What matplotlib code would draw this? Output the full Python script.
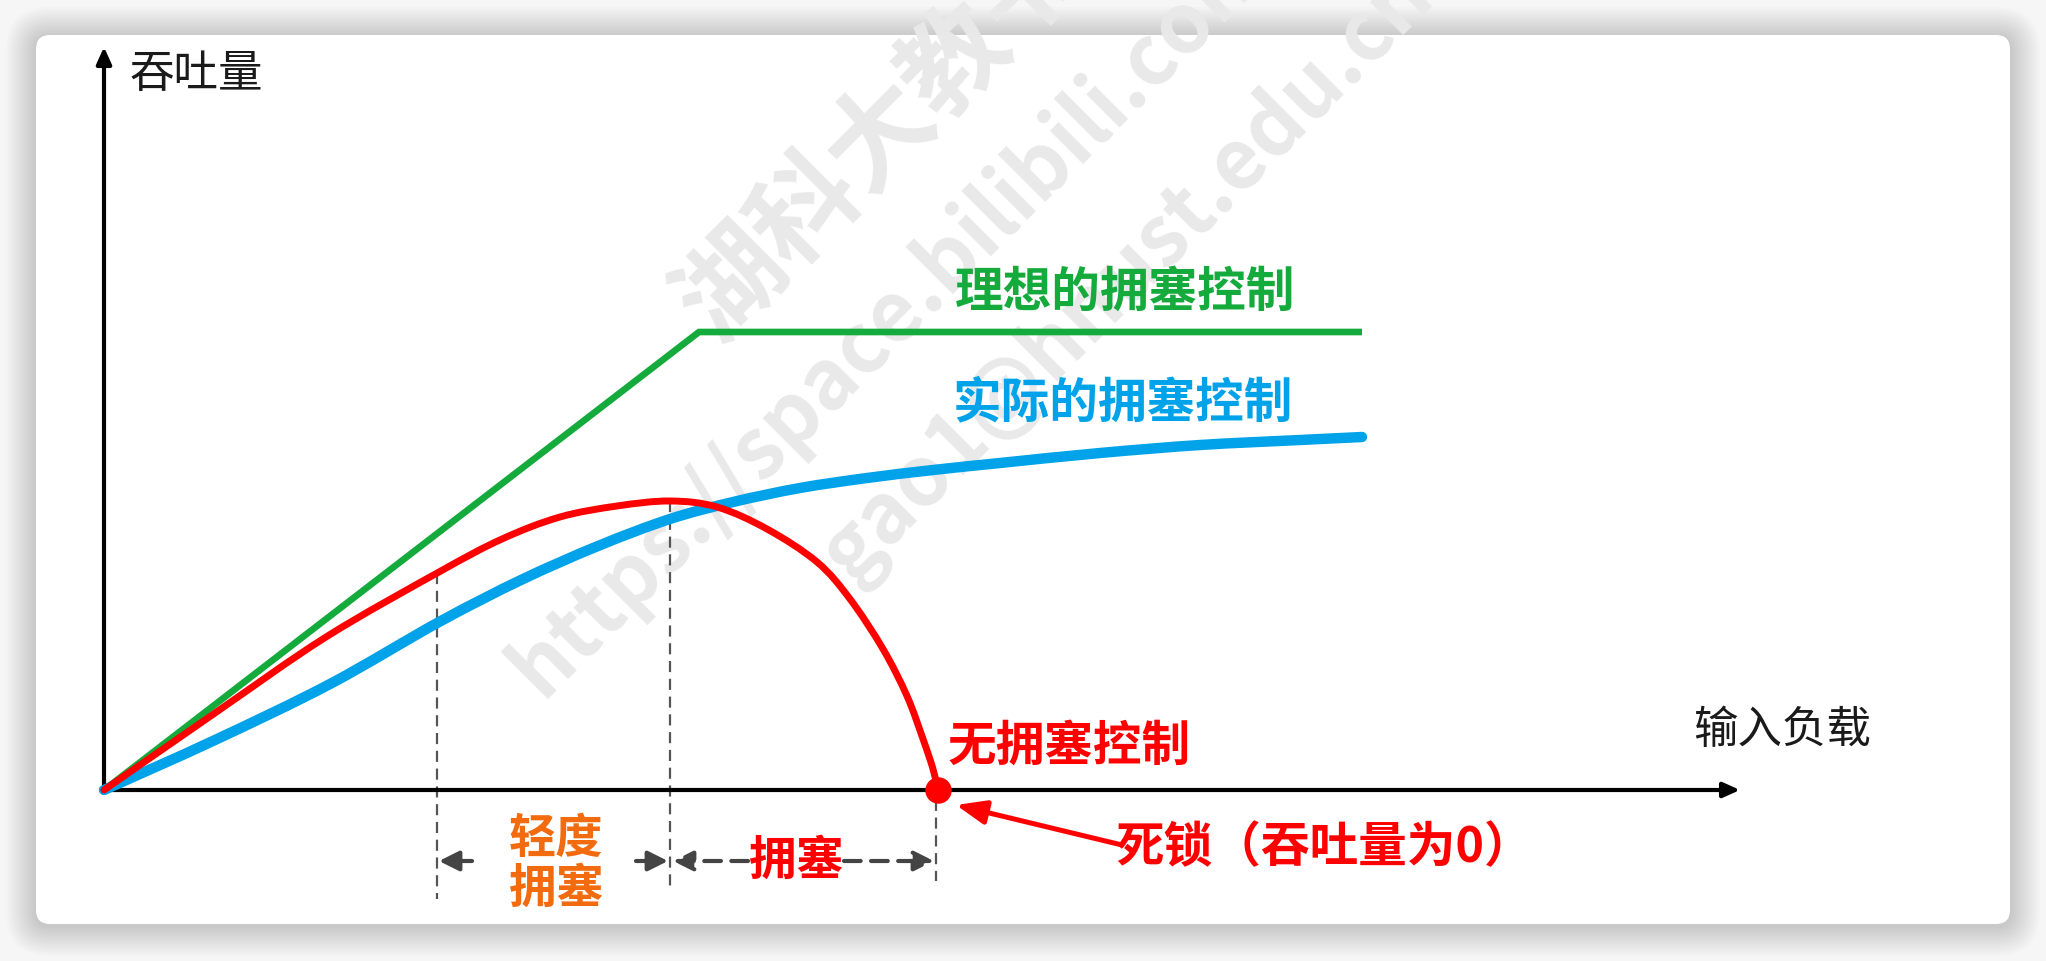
import numpy as np
import matplotlib.pyplot as plt
from matplotlib.patches import FancyBboxPatch, PathPatch
from matplotlib.path import Path

plt.rcParams['font.family'] = ['Noto Sans CJK SC', 'DejaVu Sans']

# values (input load, throughput), 1 unit ~ 100 px
ideal_load = [0.0, 5.95, 12.58]
ideal_tput = [0.0, 4.58, 4.58]

actual_load = [0.0, 1.11, 2.26, 3.35, 4.17, 4.94, 5.66, 6.29, 6.96, 7.63, 8.29, 8.96, 9.96, 10.96, 11.96, 12.58]
actual_tput = [0.0, 0.50, 1.06, 1.68, 2.10, 2.44, 2.71, 2.88, 3.02, 3.12, 3.20, 3.27, 3.37, 3.45, 3.50, 3.53]

none_load = [0.0, 1.11, 2.22, 3.35, 3.98, 4.56, 5.13, 5.66, 6.13, 6.63, 7.13, 7.46, 7.79, 8.03, 8.19, 8.29, 8.34]
none_tput = [0.0, 0.77, 1.53, 2.18, 2.51, 2.73, 2.84, 2.89, 2.83, 2.61, 2.28, 1.91, 1.41, 0.94, 0.51, 0.21, 0.0]

marks = [3.33, 5.66, 8.32]        # 轻度拥塞 / 拥塞 boundaries
mark_bottom = [-1.09, -1.00, -0.91]
deadlock_load, deadlock_tput = 8.34, 0.0

GREEN = '#14AA3C'
BLUE = '#00A2EA'
RED = '#FF0000'
ORANGE = '#F26B0F'
GRAY = '#444444'


def smooth_path(xs, ys):
    # catmull-rom through the read points, drawn as cubic bezier pieces
    pts = np.column_stack([xs, ys])
    verts, codes = [pts[0]], [Path.MOVETO]
    for i in range(len(pts) - 1):
        p0 = pts[i - 1] if i > 0 else pts[i]
        p1, p2 = pts[i], pts[i + 1]
        p3 = pts[i + 2] if i + 2 < len(pts) else pts[i + 1]
        verts += [p1 + (p2 - p0) / 6, p2 - (p3 - p1) / 6, p2]
        codes += [Path.CURVE4] * 3
    return Path(verts, codes)


W, H = 2046, 962
fig = plt.figure(figsize=(W / 100, H / 100), dpi=100, facecolor='#f6f6f6')

# card with soft shadow (pixel coords)
bg = fig.add_axes([0, 0, 1, 1])
bg.set_xlim(0, W)
bg.set_ylim(H, 0)
bg.axis('off')
for i in range(15):
    pad = 30 - i * 2
    bg.add_patch(FancyBboxPatch((36 - pad, 38 - pad), 1974 + 2 * pad, 889 + 2 * pad,
                                boxstyle='round,pad=0,rounding_size=%d' % (14 + pad),
                                fc='black', ec='none', alpha=0.012))
card = FancyBboxPatch((36, 36), 1974, 889, boxstyle='round,pad=0,rounding_size=14',
                      fc='white', ec='none')
bg.add_patch(card)

# main axes: origin sits at pixel (104, 791)
ax = fig.add_axes([0, 0, 1, 1])
ax.set_xlim(-1.04, 19.42)
ax.set_ylim(-1.71, 7.91)
ax.axis('off')
ax.patch.set_visible(False)

# watermark
wm = dict(rotation=45, rotation_mode='anchor', ha='left', va='baseline',
          color='#e9e9e9', fontweight='bold', zorder=1)
for txt, x, y, fs in [('湖科大教书匠', 6.13, 4.48, 76),
                      ('https://space.bilibili.com/360996402', 4.38, 0.92, 60),
                      ('gao1@hnust.edu.cn', 7.47, 2.07, 60)]:
    t = ax.text(x, y, txt, fontsize=fs, **wm)
    t.set_clip_path(card)

# axes arrows
ax.annotate('', xy=(0, 7.43), xytext=(0, -0.02),
            arrowprops=dict(arrowstyle='-|>,head_length=1.0,head_width=0.45', lw=3,
                            color='black', shrinkA=0, shrinkB=0, mutation_scale=10), zorder=3)
ax.annotate('', xy=(16.36, 0), xytext=(-0.02, 0),
            arrowprops=dict(arrowstyle='-|>,head_length=1.0,head_width=0.45', lw=3,
                            color='black', shrinkA=0, shrinkB=0, mutation_scale=10), zorder=3)
ax.text(0.92, 7.17, '吞吐量', fontsize=32, color='#1a1a1a', ha='center', va='center')
ax.text(16.78, 0.61, '输入负载', fontsize=32, color='#1a1a1a', ha='center', va='center')

# curves
ax.plot(ideal_load, ideal_tput, color=GREEN, lw=4.8, solid_capstyle='butt', zorder=4)
ax.add_patch(PathPatch(smooth_path(actual_load, actual_tput), fill=False, ec=BLUE, lw=7.5,
                       capstyle='round', joinstyle='round', zorder=5))
ax.add_patch(PathPatch(smooth_path(none_load, none_tput), fill=False, ec=RED, lw=5,
                       capstyle='round', joinstyle='round', zorder=6))
ax.plot(deadlock_load, deadlock_tput, 'o', color=RED, ms=18, zorder=7)

# dashed guides from the red curve down
for x, yb in zip(marks, mark_bottom):
    top = np.interp(x, none_load, none_tput)
    ax.plot([x, x], [top, yb], color='#555555', lw=1.6, ls=(0, (5, 3)), zorder=2)

# range arrows
arrow_y = -0.71
gray_arrow = dict(arrowstyle='-|>,head_length=1.0,head_width=0.5', lw=3, color=GRAY,
                  shrinkA=0, shrinkB=0, mutation_scale=12)
ax.annotate('', xy=(marks[0] + 0.02, arrow_y), xytext=(3.68, arrow_y), arrowprops=gray_arrow)
ax.annotate('', xy=(marks[1] - 0.02, arrow_y), xytext=(5.32, arrow_y), arrowprops=gray_arrow)
dashed_arrow = dict(gray_arrow, linestyle=(0, (4, 2.5)))
ax.annotate('', xy=(marks[1] + 0.03, arrow_y), xytext=(6.44, arrow_y), arrowprops=dashed_arrow)
ax.annotate('', xy=(marks[2] - 0.02, arrow_y), xytext=(7.40, arrow_y), arrowprops=dashed_arrow)

ax.text(4.52, -0.73, '轻度\n拥塞', fontsize=34, fontweight='bold', color=ORANGE,
        ha='center', va='center', linespacing=1.05)
ax.text(6.92, -0.70, '拥塞', fontsize=34, fontweight='bold', color=RED,
        ha='center', va='center')

# labels
ax.text(10.21, 4.99, '理想的拥塞控制', fontsize=35, fontweight='bold', color=GREEN,
        ha='center', va='center')
ax.text(10.19, 3.88, '实际的拥塞控制', fontsize=35, fontweight='bold', color=BLUE,
        ha='center', va='center')
ax.text(9.65, 0.45, '无拥塞控制', fontsize=35, fontweight='bold', color=RED,
        ha='center', va='center')
ax.text(12.20, -0.57, '死锁（吞吐量为0）', fontsize=35, fontweight='bold', color=RED,
        ha='center', va='center')
ax.annotate('', xy=(8.52, -0.15), xytext=(10.18, -0.55),
            arrowprops=dict(arrowstyle='-|>,head_length=0.9,head_width=0.36', lw=3.6,
                            color=RED, shrinkA=0, shrinkB=0, mutation_scale=20))

fig.savefig('out.png', dpi=100, facecolor=fig.get_facecolor())
